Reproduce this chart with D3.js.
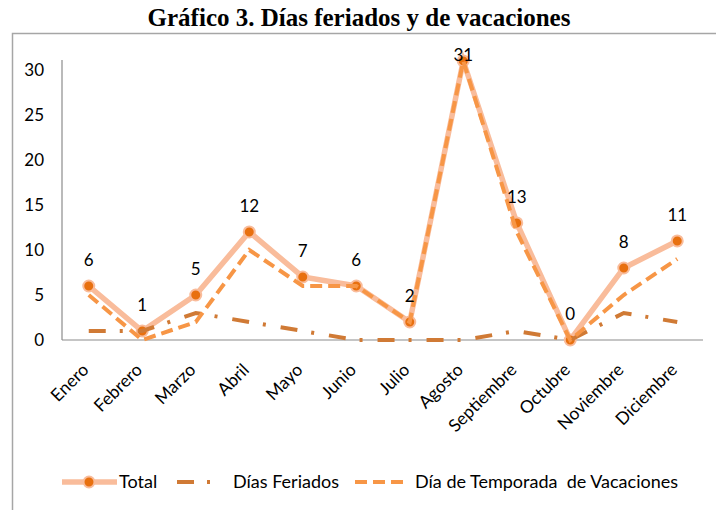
<!DOCTYPE html>
<html>
<head>
<meta charset="utf-8">
<script src="https://cdn.jsdelivr.net/npm/d3@7"></script>
<style>
  body { margin: 0; background: #fff; }
</style>
</head>
<body>
<div id="chart"></div>
<script>
var months = ["Enero", "Febrero", "Marzo", "Abril", "Mayo", "Junio", "Julio", "Agosto", "Septiembre", "Octubre", "Noviembre", "Diciembre"];
var total = [6, 1, 5, 12, 7, 6, 2, 31, 13, 0, 8, 11];
var feriados = [1, 1, 3, 2, 1, 0, 0, 0, 1, 0, 3, 2];
var vacaciones = [5, 0, 2, 10, 6, 6, 2, 31, 12, 0, 5, 9];
var yTicks = [0, 5, 10, 15, 20, 25, 30];

var width = 716,
	height = 510;
var font = "Lato, 'Open Sans', sans-serif";
var cTotal = "#f9bc9b", cDot = "#e8700f", cFer = "#d07a35", cVac = "#f79646";

var svg = d3.select("#chart").append("svg")
	.attr("width", width)
	.attr("height", height)
	.style("background-color", "white");

// outer frame
svg.append("rect")
	.attr("x", 12.5).attr("y", 33.5)
	.attr("width", 710).attr("height", 500)
	.style("fill", "none")
	.style("stroke", "#a6a6a6")
	.style("stroke-width", 1.5);

svg.append("text")
	.attr("x", 359).attr("y", 26)
	.style("text-anchor", "middle")
	.style("font", "bold 25px 'Liberation Serif', serif")
	.text("Gráfico 3. Días feriados y de vacaciones");

var x = d3.scaleBand().domain(months).range([62, 704]);
var y = d3.scaleLinear().domain([0, 31.1]).range([340, 60]);
function cx(d, i) { return x(months[i]) + x.bandwidth() / 2; }

// axes lines
svg.append("line")
	.attr("x1", 62).attr("x2", 62).attr("y1", y(31.1)).attr("y2", y(0))
	.style("stroke", "#8c8c8c").style("stroke-width", 1.2);
svg.append("line")
	.attr("x1", 62).attr("x2", 703).attr("y1", y(0)).attr("y2", y(0))
	.style("stroke", "#8c8c8c").style("stroke-width", 1.2);

svg.selectAll(".ytick")
	.data(yTicks)
	.enter().append("text")
	.attr("class", "ytick")
	.attr("x", 44)
	.attr("y", function(d) { return y(d); })
	.attr("dy", ".36em")
	.style("text-anchor", "end")
	.style("font", "17px " + font)
	.text(function(d) { return d; });

svg.selectAll(".xtick")
	.data(months)
	.enter().append("text")
	.attr("class", "xtick")
	.attr("transform", function(d) { return "translate(" + (x(d) + x.bandwidth() / 2 + 1) + "," + 371 + ") rotate(-45)"; })
	.style("text-anchor", "end")
	.style("font", "17.5px " + font)
	.text(function(d) { return d; });

var line = d3.line()
	.x(cx)
	.y(function(d) { return y(d); });

svg.append("path")
	.datum(total)
	.attr("d", line)
	.style("fill", "none")
	.style("stroke", cTotal)
	.style("stroke-width", 5.5);

svg.selectAll(".dot")
	.data(total)
	.enter().append("circle")
	.attr("class", "dot")
	.attr("cx", cx)
	.attr("cy", function(d) { return y(d); })
	.attr("r", 5.5)
	.style("fill", cDot)
	.style("stroke", cTotal)
	.style("stroke-width", 2);

svg.append("path")
	.datum(feriados)
	.attr("d", line)
	.style("fill", "none")
	.style("stroke", cFer)
	.style("stroke-width", 4)
	.style("stroke-dasharray", "17,14,3,15");

svg.append("path")
	.datum(vacaciones)
	.attr("d", line)
	.style("fill", "none")
	.style("stroke", cVac)
	.style("stroke-width", 4)
	.style("stroke-dasharray", "12,6");

// labels stay inside the frame (top label sits on its point)
svg.selectAll(".lbl")
	.data(total)
	.enter().append("text")
	.attr("class", "lbl")
	.attr("x", cx)
	.attr("y", function(d) { return Math.max(y(d) - 20, 61); })
	.style("text-anchor", "middle")
	.style("font", "17px " + font)
	.text(function(d) { return d; });

// legend
var ly = 482;
var lg = svg.append("g");
lg.append("line").attr("x1", 62).attr("x2", 117).attr("y1", ly).attr("y2", ly)
	.style("stroke", cTotal).style("stroke-width", 5.5);
lg.append("circle").attr("cx", 89).attr("cy", ly).attr("r", 5.5)
	.style("fill", cDot).style("stroke", cTotal).style("stroke-width", 2);
lg.append("text").attr("x", 119).attr("y", ly).attr("dy", ".36em")
	.style("font", "18px " + font).text("Total");

lg.append("line").attr("x1", 177).attr("x2", 211).attr("y1", ly).attr("y2", ly)
	.style("stroke", cFer).style("stroke-width", 4)
	.style("stroke-dasharray", "17,13,3,20");
lg.append("text").attr("x", 233).attr("y", ly).attr("dy", ".36em")
	.style("font", "18px " + font).text("Días Feriados");

lg.append("line").attr("x1", 355).attr("x2", 403).attr("y1", ly).attr("y2", ly)
	.style("stroke", cVac).style("stroke-width", 4)
	.style("stroke-dasharray", "12,6");
lg.append("text").attr("x", 415).attr("y", ly).attr("dy", ".36em")
	.style("font", "18px " + font).text("Día de Temporada  de Vacaciones")
	.style("white-space", "pre");
</script>
</body>
</html>
